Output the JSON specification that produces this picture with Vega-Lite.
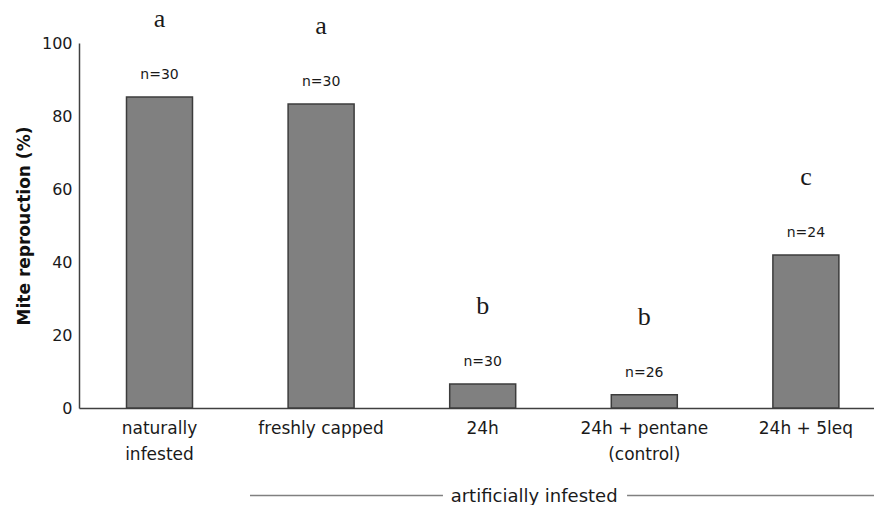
{
  "$schema": "https://vega.github.io/schema/vega-lite/v6.json",
  "width": 795,
  "height": 365,
  "autosize": {"type": "none"},
  "padding": {"left": 79, "top": 43, "right": 0, "bottom": 97},
  "background": "white",
  "config": {"view": {"stroke": null}, "font": "DejaVu Sans"},
  "resolve": {"scale": {"x": "independent", "y": "independent"}},
  "layer": [
    {
      "data": {"values": [
        {"treatment": "naturally\ninfested", "pct": 85.2, "n": "n=30", "group": "a"},
        {"treatment": "freshly capped", "pct": 83.3, "n": "n=30", "group": "a"},
        {"treatment": "24h", "pct": 6.6, "n": "n=30", "group": "b"},
        {"treatment": "24h + pentane\n(control)", "pct": 3.6, "n": "n=26", "group": "b"},
        {"treatment": "24h + 5leq", "pct": 41.9, "n": "n=24", "group": "c"}
      ]},
      "encoding": {
        "x": {
          "field": "treatment", "type": "nominal", "sort": null,
          "scale": {"paddingInner": 0.5916, "paddingOuter": 0.2556, "align": 0.575},
          "axis": {
            "title": null, "labelExpr": "split(datum.label, '\\n')", "labelAngle": 0,
            "ticks": false, "domainColor": "#404040", "domainWidth": 1.5,
            "labelFont": "DejaVu Sans", "labelFontSize": 17, "labelColor": "#1a1a1a",
            "labelLineHeight": 26, "labelPadding": 12, "labelBaseline": "top", "grid": false
          }
        },
        "y": {
          "field": "pct", "type": "quantitative",
          "scale": {"domain": [0, 100], "nice": false},
          "axis": {
            "title": "Mite reprouction (%)", "values": [0, 20, 40, 60, 80, 100],
            "ticks": false, "grid": false, "domainColor": "#404040", "domainWidth": 1.5,
            "labelFont": "DejaVu Sans", "labelFontSize": 16, "labelColor": "#1a1a1a", "labelPadding": 7,
            "titleFont": "DejaVu Sans", "titleFontSize": 17, "titleFontWeight": "bold", "titleColor": "#111111",
            "titlePadding": 8
          }
        }
      },
      "layer": [
        {"mark": {"type": "bar", "fill": "#808080", "stroke": "#3c3c3c", "strokeWidth": 1.5}},
        {"mark": {"type": "text", "dy": -18, "baseline": "alphabetic", "fontSize": 14, "font": "DejaVu Sans", "color": "#1a1a1a"},
         "encoding": {"text": {"field": "n"}}},
        {"mark": {"type": "text", "dy": -70, "baseline": "alphabetic", "fontSize": 26, "font": "Liberation Serif", "color": "#1a1a1a"},
         "encoding": {"text": {"field": "group"}}}
      ]
    },
    {
      "layer": [
        {
          "data": {"values": [
            {"start": 1.56, "end": 2.754, "level": -24},
            {"start": 3.893, "end": 5.421, "level": -24}
          ]},
          "mark": {"type": "rule", "stroke": "#808080", "strokeWidth": 1.5},
          "encoding": {
            "x": {"field": "start", "type": "quantitative", "scale": {"domain": [0.502, 5.421], "nice": false, "zero": false}, "axis": null},
            "x2": {"field": "end"},
            "y": {"field": "level", "type": "quantitative", "scale": {"domain": [0, 100], "nice": false}, "axis": null}
          }
        },
        {
          "data": {"values": [
            {"start": 3.318, "level": -24, "label": "artificially infested"}
          ]},
          "mark": {"type": "text", "baseline": "alphabetic", "dy": 6, "fontSize": 18, "font": "DejaVu Sans", "color": "#1a1a1a"},
          "encoding": {
            "x": {"field": "start", "type": "quantitative", "scale": {"domain": [0.502, 5.421], "nice": false, "zero": false}, "axis": null},
            "y": {"field": "level", "type": "quantitative", "scale": {"domain": [0, 100], "nice": false}, "axis": null},
            "text": {"field": "label"}
          }
        }
      ]
    }
  ]
}
